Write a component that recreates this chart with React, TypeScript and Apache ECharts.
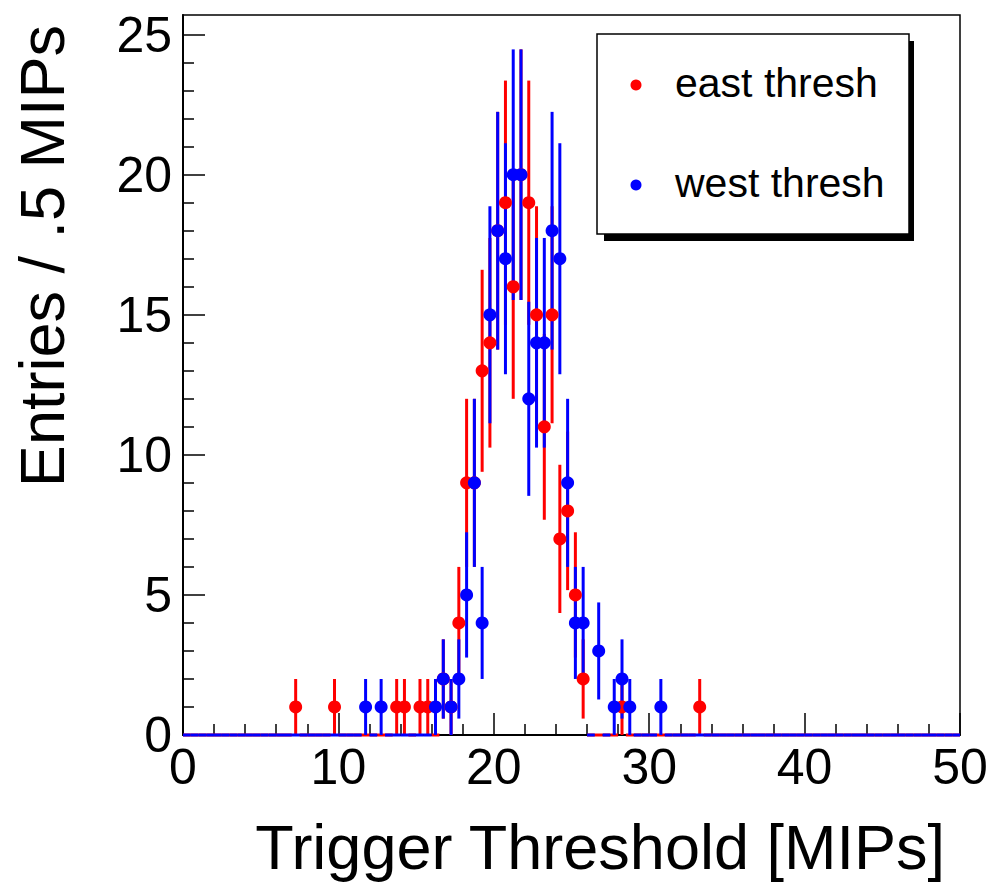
import React, { useEffect, useRef } from "react";
import * as echarts from "echarts";

// Histogram bins: 0..50 MIPs in 0.5-MIP bins; only non-empty bins listed (bin centres)
const eastX = [7.25, 9.75, 13.75, 14.25, 15.25, 15.75, 16.75, 17.25, 17.75, 18.25, 18.75, 19.25, 19.75, 20.25, 20.75, 21.25, 21.75, 22.25, 22.75, 23.25, 23.75, 24.25, 24.75, 25.25, 25.75, 28.25, 33.25];
const eastCounts = [1, 1, 1, 1, 1, 1, 2, 1, 4, 9, 9, 13, 14, 18, 19, 16, 20, 19, 15, 11, 15, 7, 8, 5, 2, 1, 1];
const westX = [11.75, 12.75, 16.25, 16.75, 17.25, 17.75, 18.25, 18.75, 19.25, 19.75, 20.25, 20.75, 21.25, 21.75, 22.25, 22.75, 23.25, 23.75, 24.25, 24.75, 25.25, 25.75, 26.75, 27.75, 28.25, 28.75, 30.75];
const westCounts = [1, 1, 1, 2, 1, 2, 5, 9, 4, 15, 18, 17, 20, 20, 12, 14, 14, 18, 17, 9, 4, 4, 3, 1, 2, 1, 1];

const X_MIN = 0;
const X_MAX = 50;
const BIN_WIDTH = 0.5;
const Y_MAX = 25.7;
const xTicks = [0, 10, 20, 30, 40, 50];
const yMajorTicks = [0, 5, 10, 15, 20, 25];
const yMinorTicks = [1, 2, 3, 4, 6, 7, 8, 9, 11, 12, 13, 14, 16, 17, 18, 19, 21, 22, 23, 24];

const seriesNames = ["east thresh", "west thresh"];
const colors = ["#ff0000", "#0000ff"];
const FONT = "'Liberation Sans', Arial, Helvetica, sans-serif";

function buildBins(xs: number[], counts: number[]) {
  const nBins = Math.round((X_MAX - X_MIN) / BIN_WIDTH);
  const out: number[][] = [];
  for (let i = 0; i < nBins; i++) {
    const c = X_MIN + (i + 0.5) * BIN_WIDTH;
    const idx = xs.findIndex((v) => Math.abs(v - c) < 1e-6);
    const n = idx >= 0 ? counts[idx] : 0;
    out.push([c, n, Math.sqrt(n)]);
  }
  return out;
}

function makeBarSeries(name: string, color: string, bins: number[][]) {
  return {
    type: "custom",
    name: name + " err",
    data: bins,
    silent: true,
    clip: false,
    z: 2,
    renderItem: (params: any, api: any) => {
      const x = api.value(0);
      const y = api.value(1);
      const e = api.value(2);
      const left = api.coord([x - BIN_WIDTH / 2, y]);
      const right = api.coord([x + BIN_WIDTH / 2, y]);
      const children: any[] = [
        {
          type: "line",
          shape: { x1: left[0], y1: left[1], x2: right[0], y2: right[1] },
          style: { stroke: color, lineWidth: 3 },
        },
      ];
      if (y > 0) {
        const lo = api.coord([x, y - e]);
        const hi = api.coord([x, y + e]);
        children.push({
          type: "line",
          shape: { x1: lo[0], y1: lo[1], x2: hi[0], y2: hi[1] },
          style: { stroke: color, lineWidth: 3 },
        });
      }
      return { type: "group", children };
    },
  };
}

function makeMarkerSeries(name: string, color: string, xs: number[], counts: number[]) {
  return {
    type: "scatter",
    name,
    data: xs.map((x, i) => [x, counts[i]]),
    symbol: "circle",
    symbolSize: 13,
    itemStyle: { color, opacity: 1 },
    z: 3,
    silent: true,
  };
}

export default function App() {
  const ref = useRef<HTMLDivElement>(null);
  useEffect(() => {
    if (!ref.current) return;
    const chart = echarts.init(ref.current, undefined, { renderer: "svg" });
    const eastBins = buildBins(eastX, eastCounts);
    const westBins = buildBins(westX, westCounts);

    const axisLineStyle = { color: "#000", width: 2 };
    const option: any = {
      animation: false,
      backgroundColor: "#fff",
      grid: {
        left: 183,
        top: 15,
        right: 35,
        bottom: 151,
        show: true,
        borderColor: "#000",
        borderWidth: 1.5,
        backgroundColor: "transparent",
        containLabel: false,
        outerBoundsMode: "none",
      },
      xAxis: {
        type: "value",
        min: X_MIN,
        max: X_MAX,
        interval: 10,
        axisLine: { show: true, onZero: false, lineStyle: axisLineStyle },
        axisTick: { show: true, inside: true, length: 22, lineStyle: { color: "#000", width: 1.5 } },
        minorTick: { show: true, splitNumber: 5, length: 11, lineStyle: { color: "#000", width: 1.5 } },
        splitLine: { show: false },
        minorSplitLine: { show: false },
        axisLabel: {
          fontSize: 50,
          fontFamily: FONT,
          color: "#000",
          margin: 7,
          customValues: xTicks,
        },
      },
      yAxis: [
        {
          type: "value",
          min: 0,
          max: Y_MAX,
          axisLine: { show: true, onZero: false, lineStyle: axisLineStyle },
          axisTick: { show: true, inside: true, length: 22, lineStyle: { color: "#000", width: 1.5 }, customValues: yMajorTicks },
          splitLine: { show: false },
          axisLabel: {
            fontSize: 50,
            fontFamily: FONT,
            color: "#000",
            margin: 11,
            customValues: yMajorTicks,
          },
        },
        {
          type: "value",
          min: 0,
          max: Y_MAX,
          position: "left",
          axisLine: { show: false },
          axisTick: { show: true, inside: true, length: 11, lineStyle: { color: "#000", width: 1.5 }, customValues: yMinorTicks },
          splitLine: { show: false },
          axisLabel: { show: false },
        },
      ],
      series: [
        makeBarSeries(seriesNames[0], colors[0], eastBins),
        makeBarSeries(seriesNames[1], colors[1], westBins),
        makeMarkerSeries(seriesNames[0], colors[0], eastX, eastCounts),
        makeMarkerSeries(seriesNames[1], colors[1], westX, westCounts),
      ],
      graphic: [
        {
          type: "text",
          x: 945,
          y: 847,
          style: {
            text: "Trigger Threshold [MIPs]",
            fontSize: 63,
            fontFamily: FONT,
            fill: "#000",
            align: "right",
            verticalAlign: "middle",
          },
        },
        {
          type: "text",
          x: 42,
          y: 25,
          rotation: Math.PI / 2,
          style: {
            text: "Entries / .5 MIPs",
            fontSize: 63,
            fontFamily: FONT,
            fill: "#000",
            align: "right",
            verticalAlign: "middle",
          },
        },
        {
          type: "rect",
          shape: { x: 604, y: 41, width: 310, height: 200 },
          style: { fill: "#000" },
          z: 10,
        },
        {
          type: "rect",
          shape: { x: 597, y: 34, width: 312, height: 200 },
          style: { fill: "#fff", stroke: "#000", lineWidth: 1.5 },
          z: 11,
        },
        {
          type: "circle",
          shape: { cx: 636, cy: 85, r: 5.5 },
          style: { fill: colors[0] },
          z: 12,
        },
        {
          type: "text",
          x: 675,
          y: 83,
          style: {
            text: seriesNames[0],
            fontSize: 41,
            fontFamily: FONT,
            fill: "#000",
            align: "left",
            verticalAlign: "middle",
          },
          z: 12,
        },
        {
          type: "circle",
          shape: { cx: 636, cy: 185, r: 5.5 },
          style: { fill: colors[1] },
          z: 12,
        },
        {
          type: "text",
          x: 675,
          y: 183,
          style: {
            text: seriesNames[1],
            fontSize: 41,
            fontFamily: FONT,
            fill: "#000",
            align: "left",
            verticalAlign: "middle",
          },
          z: 12,
        },
      ],
    };
    chart.setOption(option);
    return () => {
      chart.dispose();
    };
  }, []);
  return (
    <div
      ref={ref}
      style={{ position: "fixed", left: 0, top: 0, width: 995, height: 886, background: "#fff" }}
    />
  );
}
